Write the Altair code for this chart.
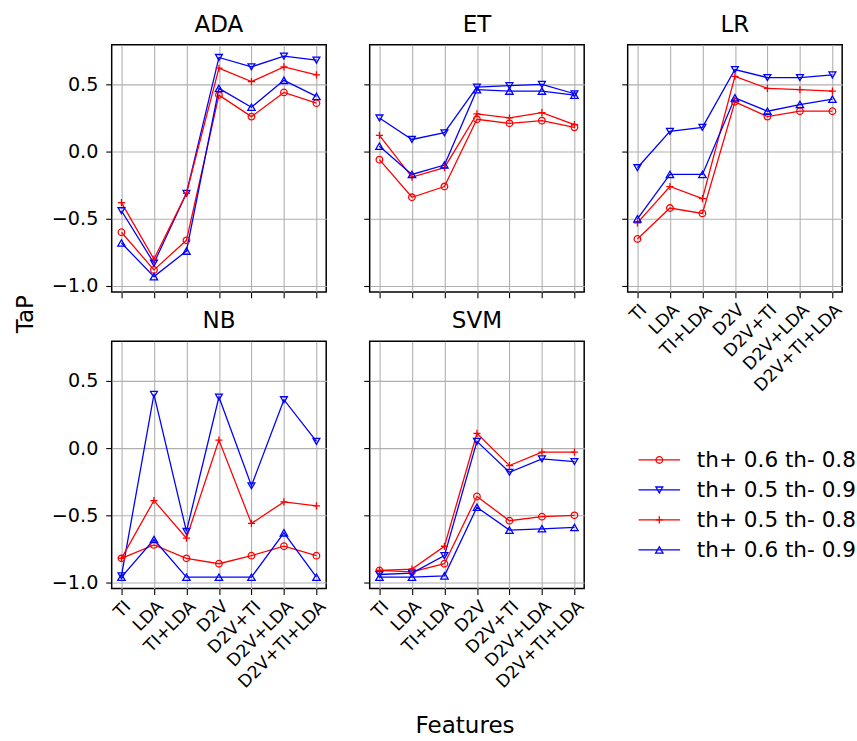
import altair as alt
import pandas as pd

features = ["TI", "LDA", "TI+LDA", "D2V", "D2V+TI", "D2V+LDA", "D2V+TI+LDA"]
series = ["th+ 0.6 th- 0.8", "th+ 0.5 th- 0.9", "th+ 0.5 th- 0.8", "th+ 0.6 th- 0.9"]
models = ["ADA", "ET", "LR", "NB", "SVM"]
y_ticks = [-1.0, -0.5, 0.0, 0.5]

ada_06_08 = [-0.60, -0.88, -0.66, 0.42, 0.26, 0.44, 0.36]
ada_05_09 = [-0.44, -0.83, -0.31, 0.70, 0.63, 0.71, 0.68]
ada_05_08 = [-0.38, -0.80, -0.31, 0.62, 0.52, 0.63, 0.57]
ada_06_09 = [-0.68, -0.93, -0.74, 0.47, 0.33, 0.53, 0.41]

et_06_08 = [-0.06, -0.34, -0.26, 0.24, 0.21, 0.23, 0.18]
et_05_09 = [0.25, 0.09, 0.14, 0.48, 0.49, 0.50, 0.43]
et_05_08 = [0.12, -0.19, -0.12, 0.28, 0.25, 0.29, 0.20]
et_06_09 = [0.04, -0.17, -0.10, 0.46, 0.45, 0.45, 0.42]

lr_06_08 = [-0.65, -0.42, -0.46, 0.37, 0.26, 0.30, 0.30]
lr_05_09 = [-0.12, 0.15, 0.18, 0.61, 0.55, 0.55, 0.57]
lr_05_08 = [-0.53, -0.26, -0.35, 0.56, 0.47, 0.46, 0.45]
lr_06_09 = [-0.50, -0.17, -0.17, 0.40, 0.30, 0.35, 0.39]

nb_06_08 = [-0.82, -0.72, -0.82, -0.86, -0.80, -0.73, -0.80]
nb_05_09 = [-0.95, 0.40, -0.62, 0.38, -0.28, 0.36, 0.05]
nb_05_08 = [-0.82, -0.39, -0.67, 0.06, -0.56, -0.40, -0.43]
nb_06_09 = [-0.96, -0.68, -0.96, -0.96, -0.96, -0.63, -0.96]

svm_06_08 = [-0.91, -0.92, -0.86, -0.36, -0.54, -0.51, -0.50]
svm_05_09 = [-0.94, -0.93, -0.80, 0.05, -0.18, -0.08, -0.10]
svm_05_08 = [-0.91, -0.90, -0.73, 0.11, -0.13, -0.03, -0.03]
svm_06_09 = [-0.96, -0.96, -0.95, -0.44, -0.61, -0.60, -0.59]

model_values = {
    "ADA": [ada_06_08, ada_05_09, ada_05_08, ada_06_09],
    "ET": [et_06_08, et_05_09, et_05_08, et_06_09],
    "LR": [lr_06_08, lr_05_09, lr_05_08, lr_06_09],
    "NB": [nb_06_08, nb_05_09, nb_05_08, nb_06_09],
    "SVM": [svm_06_08, svm_05_09, svm_05_08, svm_06_09],
}

FONT = "DejaVu Sans"
TICK_FS = 19.4
XTICK_FS = 17.5
LEG_FS = 21.8
TITLE_FS = 23.3
W, H = 217, 250

color_enc = alt.Color("series:N", scale=alt.Scale(domain=series, range=["#ff0000", "#0000ff", "#ff0000", "#0000ff"]), legend=None)
shape_enc = alt.Shape("series:N", scale=alt.Scale(domain=series, range=["circle", "triangle-down", "M-1,0L1,0M0,-1L0,1", "triangle-up"]), legend=None)
size_enc = alt.Size("series:N", scale=alt.Scale(domain=series, range=[44, 56, 44, 56]), legend=None)


def panel(name, x_labels, y_labels, x_title=False, y_title=False):
    rows = []
    for s, vals in zip(series, model_values[name]):
        for f, v in zip(features, vals):
            rows.append({"feature": f, "series": s, "value": v})
    df = pd.DataFrame(rows)

    xaxis_kw = dict(
        grid=True, domain=False, ticks=True, labels=x_labels, labelAngle=-45,
        labelAlign="right", labelBaseline="top", labelPadding=3, labelOverlap=False,
        labelBound=False, labelFontSize=XTICK_FS,
    )
    if x_title:
        xaxis_kw.update(title="Features", titleX=96, titleY=146, titleAlign="center",
                        titleBaseline="alphabetic", titleAngle=0)
    else:
        xaxis_kw.update(title=None)

    yaxis_kw = dict(
        grid=True, domain=False, ticks=True, labels=y_labels, values=y_ticks,
        labelExpr="replace(format(datum.value, '.1f'), '-', '\u2212')",
        labelPadding=8, labelOverlap=False,
    )
    if y_title:
        yaxis_kw.update(title="TaP", titleX=-80, titleY=272, titleAlign="center",
                        titleBaseline="alphabetic", titleAngle=-90)
    else:
        yaxis_kw.update(title=None)

    x = alt.X("feature:N", sort=features, scale=alt.Scale(type="point", padding=0.3), axis=alt.Axis(**xaxis_kw))
    y = alt.Y("value:Q", scale=alt.Scale(domain=[-1.044, 0.794], nice=False, zero=False), axis=alt.Axis(**yaxis_kw))

    base = alt.Chart(df).encode(x=x, y=y, color=color_enc)
    lines = base.mark_line(strokeWidth=1.3)
    pts = base.mark_point(filled=False, strokeWidth=1.3, opacity=1).encode(shape=shape_enc, size=size_enc)
    return alt.layer(lines, pts).properties(
        width=W, height=H,
        title=alt.TitleParams(name, fontSize=TITLE_FS, font=FONT, fontWeight="normal",
                              baseline="alphabetic", offset=-10, anchor="middle", color="black"),
    )


ada = panel("ADA", False, True, y_title=True)
et = panel("ET", False, False)
lr = panel("LR", True, False)
nb = panel("NB", True, True)
svm = panel("SVM", True, False, x_title=True)

leg_df = pd.DataFrame({"series": series})
leg_base = alt.Chart(leg_df).encode(
    y=alt.Y("series:N", sort=series, scale=alt.Scale(type="point", range=[120, 211], padding=0), axis=None)
)
leg_rule = leg_base.mark_rule(strokeWidth=1.3).encode(x=alt.value(11), x2=alt.value(53), color=color_enc)
leg_pts = leg_base.mark_point(filled=False, strokeWidth=1.3, opacity=1).encode(
    x=alt.value(32), color=color_enc, shape=shape_enc, size=size_enc)
leg_txt = leg_base.mark_text(align="left", baseline="middle", font=FONT, fontSize=LEG_FS, color="black").encode(
    x=alt.value(70), text="series:N")
legend = alt.layer(leg_rule, leg_pts, leg_txt).properties(
    width=W, height=H, view=alt.ViewBackground(stroke="transparent"))

chart = alt.concat(
    ada, et, lr, nb, svm, legend, columns=3, spacing={"row": 50, "column": 44}, bounds="flush"
).resolve_scale(
    x="independent", y="independent"
).properties(
    padding={"left": 13, "top": 7, "right": 0, "bottom": 0},
    background="white",
).configure_view(
    stroke="black", strokeWidth=1.5
).configure_axis(
    labelFont=FONT, labelFontSize=TICK_FS, labelColor="black",
    titleFont=FONT, titleFontSize=TITLE_FS, titleFontWeight="normal", titleColor="black",
    gridColor="#b0b0b0", gridWidth=1.1, gridOpacity=1, tickColor="black", tickWidth=1.1, tickSize=6,
)

chart.save("out.html", embed_options={"renderer": "svg", "actions": False})
